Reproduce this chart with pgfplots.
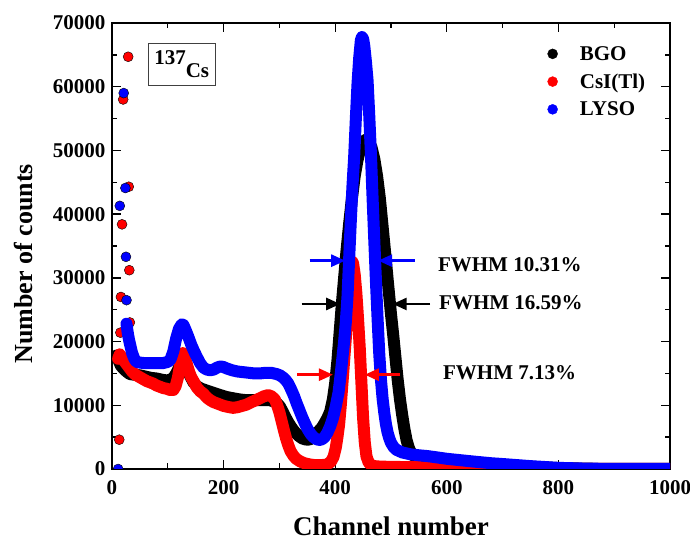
\documentclass[border=0pt]{standalone}
\usepackage{fontspec}
\setmainfont{Liberation Serif}
\usepackage{pgfplots}
\pgfplotsset{compat=1.18}
\usetikzlibrary{arrows.meta}

\newcommand{\tickfont}{\fontsize{21}{25}\selectfont\bfseries}

\begin{document}
\begin{tikzpicture}
\begin{axis}[
    width=558pt, height=446pt, scale only axis,
    xmin=0, xmax=1000, ymin=0, ymax=70000,
    xtick={0,200,400,600,800,1000},
    ytick={0,10000,20000,30000,40000,50000,60000,70000},
    minor x tick num=1, minor y tick num=1,
    scaled y ticks=false, scaled x ticks=false,
    /pgf/number format/1000 sep={},
    /pgf/number format/assume math mode=true,
    tick label style={font=\tickfont},
    xticklabel style={yshift=-8pt},
    yticklabel style={xshift=-3pt},
    major tick length=9pt, minor tick length=5.5pt,
    tick style={line width=1.3pt, black},
    axis line style={line width=1.6pt},
    clip marker paths=true,
    xlabel={Channel number},
    ylabel={Number of counts},
    xlabel style={font=\fontsize{27}{30}\selectfont\bfseries, at={(axis description cs:0.5,-0.128)}, anchor=center},
    ylabel style={font=\fontsize{26}{30}\selectfont\bfseries, at={(axis description cs:-0.158,0.46)}, anchor=center},
    legend image code/.code={\fill[#1] (0pt,0pt) circle (5pt);},
    legend style={draw=none, fill=none, inner sep=0pt, at={(rel axis cs:0.78,0.953)}, anchor=north west,
        font=\tickfont, row sep=8pt, /tikz/every odd column/.append style={column sep=20pt}},
    legend cell align=left,
]
\coordinate (SW) at (rel axis cs:0,0);
\coordinate (NE) at (rel axis cs:1,1);

\addlegendimage{black}
\addlegendentry{BGO}
\addlegendimage{red}
\addlegendentry{CsI(Tl)}
\addlegendimage{blue}
\addlegendentry{LYSO}

% BGO
\addplot[black, line width=12pt, line join=round, line cap=round, forget plot] coordinates {
(8,17800) (12,17000) (16,16200) (20,15800) (26,15300) (32,14900) (40,14800) (50,14700)
(60,14500) (70,14300) (80,14200) (90,14000) (98,13900) (104,14000) (110,14300) (115,15000)
(120,15900) (125,16500) (130,16200) (135,15400) (140,14600) (146,13600) (152,13000) (160,12600)
(170,12300) (180,12000) (194,11600) (205,11300) (217,11100) (230,10900) (241,10800) (255,10800)
(265,10800) (275,10800) (283,10800) (290,10600) (296,10300) (301,9800) (306,9000) (311,8100)
(316,7300) (321,6600) (326,6000) (331,5500) (336,5100) (341,4800) (346,4650) (351,4600)
(356,4700) (361,5100) (366,5600) (371,6000) (376,6500) (381,7200) (386,8000) (391,9000)
(396,11000) (400,13500) (404,17000) (408,21500) (412,26000) (416,30000) (420,34000) (425,38500)
(430,42500) (435,46000) (440,48500) (445,50300) (450,51300) (455,51700) (460,51500) (465,50500)
(470,48700) (475,46000) (480,42500) (485,38000) (490,33500) (495,28800) (500,24300) (504,21000)
(508,17500) (512,14000) (516,11000) (520,8500) (524,6300) (528,4500) (532,3300) (536,2500)
(540,2100) (550,1800) (570,1500) (600,1200) (650,900) (700,600) (750,350) (800,150)
(850,50) (900,0) (1000,0)
};

% CsI(Tl)
\addplot[red, line width=12pt, line join=round, line cap=round, forget plot] coordinates {
(11,17300) (14,18000) (18,17400) (24,16700) (30,16000) (36,15300) (42,14800) (50,14400)
(56,14100) (62,13800) (68,13600) (74,13400) (80,13100) (86,12900) (92,12700) (98,12600)
(104,12400) (110,12400) (114,13000) (118,14300) (121,15800) (124,17300) (127,18200) (130,17500)
(134,16500) (138,15300) (142,14400) (146,13800) (152,12800) (158,12200) (164,11800) (170,11200)
(176,10800) (182,10500) (188,10300) (194,10100) (200,9900) (210,9700) (217,9600) (225,9700)
(233,9900) (241,10100) (250,10500) (258,10800) (265,11100) (272,11400) (280,11600) (286,11400)
(292,10900) (296,10000) (300,8900) (304,7500) (308,6100) (312,4800) (316,3700) (320,2800)
(325,2100) (330,1600) (337,1200) (345,900) (355,700) (365,600) (375,600) (385,700)
(392,1100) (397,1900) (401,3300) (404,5000) (407,7000) (410,10000) (413,13500) (416,17000)
(419,20500) (422,24500) (425,28500) (428,31500) (430,32600) (432,32300) (435,30500) (438,27500)
(441,23500) (444,19000) (447,13500) (450,8000) (453,4200) (456,2000) (460,1000) (465,600)
(470,450) (480,380) (500,330) (550,280) (600,200) (650,100) (700,50) (800,0) (1000,0)
};
\addplot[only marks, mark=*, mark size=5pt, mark options={draw=none, fill=red}, forget plot] coordinates {
(13,4600) (15,21400) (16,27000) (18,38400) (20,58000) (29,64700) (30,44300) (31,31200) (32,23000)
};

% LYSO
\addplot[blue, line width=12pt, line join=round, line cap=round, forget plot] coordinates {
(26,22800) (28,21500) (30,20500) (32,19700) (36,18200) (40,17300) (44,16800) (50,16700)
(60,16600) (70,16600) (80,16600) (90,16600) (100,16800) (105,17200) (110,18500) (115,20500)
(120,22000) (125,22700) (128,22600) (132,21800) (137,20700) (142,19500) (147,18500) (152,17600)
(158,16600) (164,15900) (170,15600) (176,15500) (182,15600) (188,15900) (194,16100) (200,16000)
(205,15800) (215,15500) (225,15300) (235,15200) (245,15100) (255,15000) (265,15000) (275,15100)
(285,15100) (295,14900) (301,14700) (306,14400) (311,14000) (316,13400) (321,12500) (326,11500)
(331,10300) (336,9200) (341,8100) (346,7100) (351,6200) (356,5500) (361,5000) (366,4700)
(371,4550) (376,4650) (381,5000) (386,5700) (391,6700) (396,8000) (401,9800) (406,12000)
(410,15000) (413,17500) (416,20000) (419,23000) (422,27000) (425,33000) (428,39000) (431,44500)
(434,49000) (437,55000) (440,60500) (443,64500) (446,67300) (448,67800) (450,67500) (452,66500)
(455,64000) (458,61000) (461,55500) (464,49500) (467,42500) (470,36000) (473,29500) (476,23500)
(479,18000) (482,14000) (485,11000) (488,8800) (491,7000) (494,5700) (497,4800) (500,4100)
(505,3400) (510,3000) (520,2600) (535,2300) (550,2150) (565,2030) (580,1850) (600,1600)
(620,1420) (650,1150) (680,900) (700,780) (750,450) (800,180) (850,60) (900,10) (1000,0)
};
\addplot[only marks, mark=*, mark size=5pt, mark options={draw=none, fill=blue}, forget plot] coordinates {
(11,0) (14,41300) (21,59000) (24,44100) (25,33300) (26,26500)
};

% annotations
\draw[blue, line width=2.5pt, -{Triangle[length=14pt,width=12pt]}] (axis cs:354,32700) -- (axis cs:418,32700);
\draw[blue, line width=2.5pt, -{Triangle[length=14pt,width=12pt]}] (axis cs:543,32700) -- (axis cs:477,32700);
\draw[black, line width=2.5pt, -{Triangle[length=14pt,width=12pt]}] (axis cs:340,25900) -- (axis cs:409,25900);
\draw[black, line width=2.5pt, -{Triangle[length=14pt,width=12pt]}] (axis cs:570,25900) -- (axis cs:503,25900);
\draw[red, line width=2.5pt, -{Triangle[length=14pt,width=12pt]}] (axis cs:332,14800) -- (axis cs:396,14800);
\draw[red, line width=2.5pt, -{Triangle[length=14pt,width=12pt]}] (axis cs:516,14800) -- (axis cs:453,14800);

\node[anchor=west, inner sep=0pt, font=\tickfont] at (axis cs:584,32000) {FWHM 10.31\%};
\node[anchor=west, inner sep=0pt, font=\tickfont] at (axis cs:586,26060) {FWHM 16.59\%};
\node[anchor=west, inner sep=0pt, font=\tickfont] at (axis cs:593,15070) {FWHM 7.13\%};

\node[draw=black!75, line width=0.8pt, fill=white, inner xsep=6pt, inner ysep=7pt, font=\tickfont]
  at (axis cs:125,63500) {137\raisebox{-13pt}{Cs}};
\end{axis}
\pgfresetboundingbox
\useasboundingbox ([xshift=-112pt,yshift=-73pt]SW) rectangle ([xshift=20pt,yshift=23pt]NE);
\end{tikzpicture}
\end{document}
